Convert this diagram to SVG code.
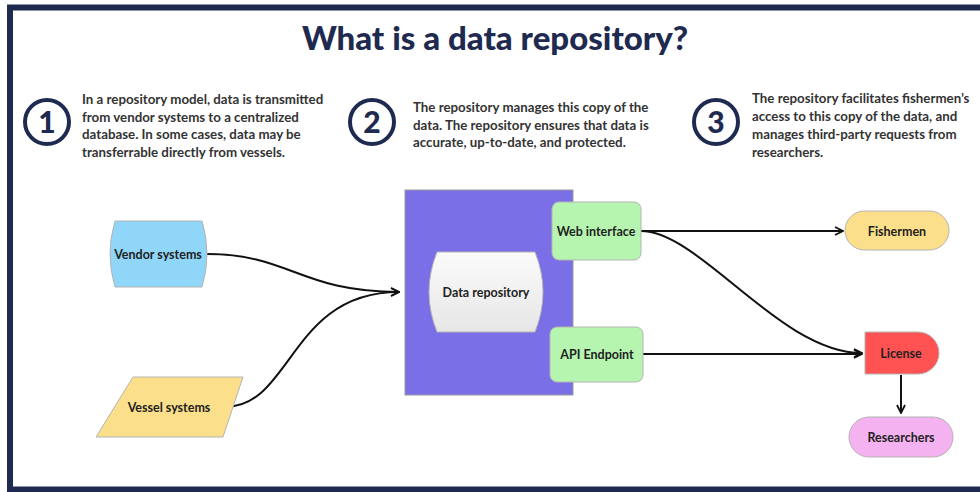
<svg xmlns="http://www.w3.org/2000/svg" width="980" height="492" viewBox="0 0 980 492">
  <defs>
    <style>
      .frame { fill: #ffffff; stroke: #1f2a50; stroke-width: 6; }
      .title { font-family: Lato, "Liberation Sans", sans-serif; font-weight: 900; font-size: 33px; fill: #1f2a50; }
      .num-ring { fill: #ffffff; stroke: #1f2a50; stroke-width: 4; }
      .num { font-family: Lato, "Liberation Sans", sans-serif; font-weight: 900; font-size: 30px; fill: #1f2a50; }
      .para { font-family: Lato, "Liberation Sans", sans-serif; font-weight: 700; font-size: 13.3px; fill: #333333; }
      .label { font-family: Lato, "Liberation Sans", sans-serif; font-weight: 700; font-size: 12.5px; fill: #222222; }
      .shape { stroke: #b4b4b4; stroke-width: 1; }
      .edge { fill: none; stroke: #111111; stroke-width: 2; }
    </style>
    <marker id="arrow" viewBox="0 0 10 10" refX="9" refY="5" markerWidth="10" markerHeight="12" markerUnits="userSpaceOnUse" orient="auto">
      <path d="M1,1 L9,5 L1,9" fill="none" stroke="#111111" stroke-width="1.8"/>
    </marker>
    <linearGradient id="repoFill" x1="0" y1="0" x2="0" y2="1">
      <stop offset="0" stop-color="#fbfbfb"/>
      <stop offset="1" stop-color="#e6e6e6"/>
    </linearGradient>
  </defs>

  <rect x="0" y="0" width="980" height="492" fill="#ffffff"/>
  <!-- outer frame, right side runs past the canvas -->
  <rect class="frame" x="10" y="7.5" width="1000" height="482"/>

  <text class="title" x="495" y="50" text-anchor="middle">What is a data repository?</text>

  <!-- step captions -->
  <g id="step1">
    <circle class="num-ring" cx="47" cy="122" r="22"/>
    <text class="num" x="47" y="133" text-anchor="middle">1</text>
    <text class="para">
      <tspan x="82" y="104">In a repository model, data is transmitted</tspan>
      <tspan x="82" y="121.5">from vendor systems to a centralized</tspan>
      <tspan x="82" y="139">database. In some cases, data may be</tspan>
      <tspan x="82" y="156.5">transferrable directly from vessels.</tspan>
    </text>
  </g>
  <g id="step2">
    <circle class="num-ring" cx="372" cy="122" r="22"/>
    <text class="num" x="372" y="133" text-anchor="middle">2</text>
    <text class="para">
      <tspan x="413" y="112">The repository manages this copy of the</tspan>
      <tspan x="413" y="129.5">data. The repository ensures that data is</tspan>
      <tspan x="413" y="147">accurate, up-to-date, and protected.</tspan>
    </text>
  </g>
  <g id="step3">
    <circle class="num-ring" cx="716" cy="122" r="22"/>
    <text class="num" x="716" y="133" text-anchor="middle">3</text>
    <text class="para">
      <tspan x="752" y="103">The repository facilitates fishermen’s</tspan>
      <tspan x="752" y="121">access to this copy of the data, and</tspan>
      <tspan x="752" y="139">manages third-party requests from</tspan>
      <tspan x="752" y="157">researchers.</tspan>
    </text>
  </g>

  <!-- connectors -->
  <g id="connectors">
    <path class="edge" d="M207,254 C290,254 300,292 399,292" marker-end="url(#arrow)"/>
    <path class="edge" d="M225,407 C292,407 290,292 399,292" marker-end="url(#arrow)"/>
    <path class="edge" d="M641,231 L843,231" marker-end="url(#arrow)"/>
    <path class="edge" d="M641,231 C700,231 780,353 862,353" marker-end="url(#arrow)"/>
    <path class="edge" d="M643,354 L862,354" marker-end="url(#arrow)"/>
    <path class="edge" d="M901,375 L901,413" marker-end="url(#arrow)"/>
  </g>

  <!-- nodes -->
  <g id="vendor-systems">
    <path class="shape" d="M115,221 H202 Q212,254 202,287 H115 Q105,254 115,221 Z" fill="#8fd6f8"/>
    <text class="label" x="158" y="258.5" text-anchor="middle">Vendor systems</text>
  </g>
  <g id="vessel-systems">
    <path class="shape" d="M133,377 H243 L223,437 H96 Z" fill="#fcdf8a"/>
    <text class="label" x="169" y="411.5" text-anchor="middle">Vessel systems</text>
  </g>
  <g id="repository-box">
    <rect x="405" y="190" width="168" height="205" fill="#7a6fe6" stroke="#9a9a9a" stroke-width="1"/>
  </g>
  <g id="data-repository">
    <path class="shape" d="M437,252 H535 Q551,292 535,332 H437 Q421,292 437,252 Z" fill="url(#repoFill)"/>
    <text class="label" x="486" y="296.5" text-anchor="middle">Data repository</text>
  </g>
  <g id="web-interface">
    <rect class="shape" x="552" y="202" width="89" height="58" rx="7" fill="#b6f5b0"/>
    <text class="label" x="596" y="235.5" text-anchor="middle">Web interface</text>
  </g>
  <g id="api-endpoint">
    <rect class="shape" x="550" y="327" width="93" height="55" rx="7" fill="#b6f5b0"/>
    <text class="label" x="597" y="358.5" text-anchor="middle">API Endpoint</text>
  </g>
  <g id="fishermen">
    <rect class="shape" x="845" y="211" width="104" height="39" rx="19.5" fill="#fcdf8a"/>
    <text class="label" x="897" y="235.5" text-anchor="middle">Fishermen</text>
  </g>
  <g id="license">
    <path class="shape" d="M865,332 H918 A21,21 0 0 1 918,374 H865 Z" fill="#ff5252"/>
    <text class="label" x="901" y="357.5" text-anchor="middle">License</text>
  </g>
  <g id="researchers">
    <rect class="shape" x="849" y="417" width="104" height="40" rx="20" fill="#f4b2f0"/>
    <text class="label" x="901" y="441.5" text-anchor="middle">Researchers</text>
  </g>
</svg>
